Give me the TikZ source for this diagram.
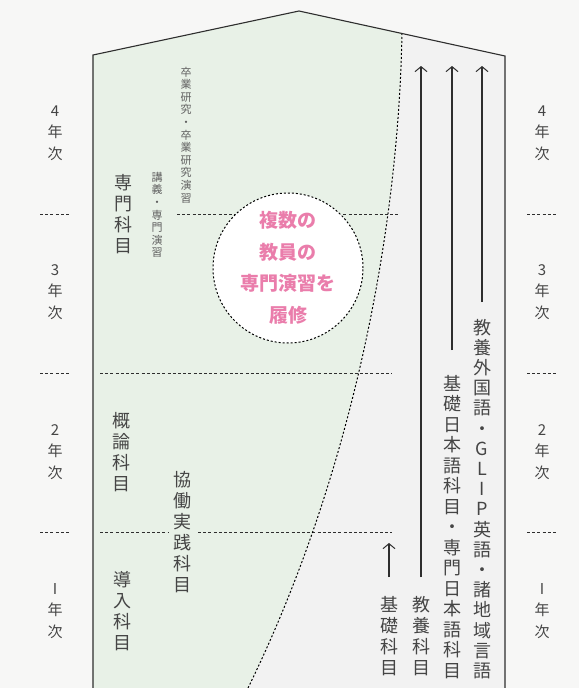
\documentclass[tikz,border=0pt]{standalone}
\usepackage{fontspec}
\newfontfamily\jp{Noto Sans CJK JP}
\usetikzlibrary{arrows.meta}
\definecolor{bgcol}{HTML}{F7F7F6}
\definecolor{greenfill}{HTML}{E8F1E7}
\definecolor{grayfill}{HTML}{F2F2F2}
\definecolor{textgray}{HTML}{454545}
\definecolor{smallgray}{HTML}{606060}
\definecolor{pinktext}{HTML}{EA7DAB}
\definecolor{linecol}{HTML}{2E2E2E}
\begin{document}
\begin{tikzpicture}[x=1pt,y=-1pt,
  vtext/.style={font=\jp\fontsize{18}{21}\selectfont, text=textgray, align=center, inner sep=0pt},
  ltext/.style={font=\jp\fontsize{18}{20.2}\selectfont, text=textgray, align=center, inner sep=0pt},
  ytext/.style={font=\jp\fontsize{15}{21.5}\selectfont, text=textgray, align=center, inner sep=0pt},
  stext/.style={font=\jp\fontsize{11}{12.6}\selectfont, text=smallgray, align=center, inner sep=0pt},
  ctext/.style={font=\jp\bfseries\fontsize{19}{31.5}\selectfont, text=pinktext, align=center, inner sep=0pt},
  outline/.style={draw=linecol, line width=1.1pt},
  hdash/.style={draw=linecol, line width=0.7pt, dash pattern=on 3pt off 2.2pt},
  cdash/.style={draw=black, line width=1pt, dash pattern=on 2pt off 2pt},
  uparrow/.style={draw=linecol, line width=1.1pt, -{Straight Barb[length=5pt,width=12pt,line width=1pt]}}
]
\useasboundingbox (0,0) rectangle (579,688);
\fill[bgcol] (0,0) rectangle (579,688);

% key points
\coordinate (bl) at (93,688);
\coordinate (tl) at (93,55);
\coordinate (pk) at (299,11);
\coordinate (tr) at (505,56);
\coordinate (br) at (505,688);
\coordinate (ct) at (402,33);
\coordinate (cb) at (248,688);

% regions
\fill[greenfill] (bl) -- (tl) -- (pk) -- (ct) .. controls (398,250) and (345,490) .. (cb) -- cycle;
\fill[grayfill] (ct) -- (tr) -- (br) -- (cb) .. controls (345,490) and (398,250) .. (ct) -- cycle;

% horizontal dashed lines inside
\coordinate (h1a) at (177,214); \coordinate (h1b) at (400,214);
\coordinate (h2a) at (100,373); \coordinate (h2b) at (392,373);
\coordinate (h3a) at (100,532); \coordinate (h3b) at (168,532);
\coordinate (h3c) at (198,532); \coordinate (h3d) at (392,532);
\draw[hdash] (h1a) -- (h1b);
\draw[hdash] (h2a) -- (h2b);
\draw[hdash] (h3a) -- (h3b);
\draw[hdash] (h3c) -- (h3d);

% side dashes
\foreach \yy/\nm in {214/a,373/b,532/c}{
  \coordinate (L\nm1) at (40,\yy); \coordinate (L\nm2) at (70,\yy);
  \coordinate (R\nm1) at (527,\yy); \coordinate (R\nm2) at (557,\yy);
  \draw[hdash] (L\nm1) -- (L\nm2);
  \draw[hdash] (R\nm1) -- (R\nm2);
}

% dashed curve
\draw[cdash] (ct) .. controls (398,250) and (345,490) .. (cb);

% outline
\draw[outline] (bl) -- (tl) -- (pk) -- (tr) -- (br);

% circle
\node[circle, minimum size=150pt, inner sep=0pt, fill=white, cdash] (circ) at (288,268) {};
\node[ctext] (ctxt) at (circ.center) {複数の\\教員の\\専門演習を\\履修};

% arrows
\coordinate (a1s) at (421,577); \coordinate (a1e) at (421,66);
\coordinate (a2s) at (452,350); \coordinate (a2e) at (452,66);
\coordinate (a3s) at (482,302); \coordinate (a3e) at (482,66);
\coordinate (a4s) at (389,577); \coordinate (a4e) at (389,543);
\draw[uparrow] (a1s) -- (a1e);
\draw[uparrow] (a2s) -- (a2e);
\draw[uparrow] (a3s) -- (a3e);
\draw[uparrow] (a4s) -- (a4e);

% right column texts
\node[ltext] (t1) at (482,499) {教\\養\\外\\国\\語\\・\\G\\L\\I\\P\\英\\語\\・\\諸\\地\\域\\言\\語};
\node[ltext, font=\jp\fontsize{18}{20.5}\selectfont] (t2) at (452,527) {基\\礎\\日\\本\\語\\科\\目\\・\\専\\門\\日\\本\\語\\科\\目};
\node[vtext] (t3) at (421,636) {教\\養\\科\\目};
\node[vtext] (t4) at (389,636) {基\\礎\\科\\目};

% left column texts
\node[vtext] (l1) at (123,214) {専\\門\\科\\目};
\node[vtext] (l2) at (121,452) {概\\論\\科\\目};
\node[vtext] (l3) at (122,611) {導\\入\\科\\目};
\node[vtext] (l4) at (182,532) {協\\働\\実\\践\\科\\目};
\node[stext] (s1) at (186,135) {卒\\業\\研\\究\\・\\卒\\業\\研\\究\\演\\習};
\node[stext] (s2) at (157,215) {講\\義\\・\\専\\門\\演\\習};

% year labels
\node[ytext] (y4l) at (55,133) {4\\年\\次};
\node[ytext] (y3l) at (55,292) {3\\年\\次};
\node[ytext] (y2l) at (55,452) {2\\年\\次};
\node[ytext] (y1l) at (55,611) {I\\年\\次};
\node[ytext] (y4r) at (542,133) {4\\年\\次};
\node[ytext] (y3r) at (542,292) {3\\年\\次};
\node[ytext] (y2r) at (542,452) {2\\年\\次};
\node[ytext] (y1r) at (542,611) {I\\年\\次};
\end{tikzpicture}
\end{document}
